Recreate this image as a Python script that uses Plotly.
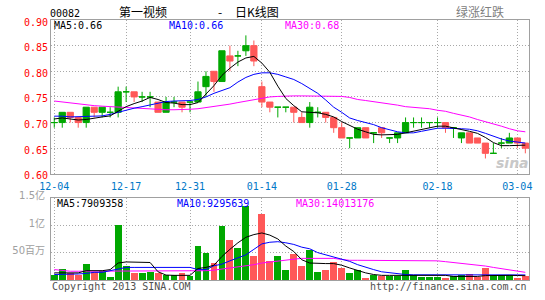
import plotly.graph_objects as go

# ---------------- data ----------------
dates = ['12-04', '12-05', '12-06', '12-07', '12-10', '12-11', '12-12', '12-13', '12-14', '12-17',
         '12-18', '12-19', '12-20', '12-21', '12-24', '12-27', '12-28', '12-31', '01-02', '01-03',
         '01-04', '01-07', '01-08', '01-09', '01-10', '01-11', '01-14', '01-15', '01-16', '01-17',
         '01-18', '01-21', '01-22', '01-23', '01-24', '01-25', '01-28', '01-29', '01-30', '01-31',
         '02-01', '02-04', '02-05', '02-06', '02-07', '02-08', '02-14', '02-15', '02-18', '02-19',
         '02-20', '02-21', '02-22', '02-25', '02-26', '02-27', '02-28', '03-01', '03-04', '03-05']

opens = [0.70, 0.70, 0.72, 0.71, 0.70, 0.73, 0.72, 0.72, 0.72, 0.76,
         0.76, 0.75, 0.75, 0.74, 0.72, 0.74, 0.74, 0.74, 0.74, 0.77,
         0.80, 0.78, 0.83, 0.83, 0.84, 0.85, 0.77, 0.74, 0.73, 0.73,
         0.73, 0.71, 0.70, 0.72, 0.72, 0.71, 0.69, 0.67, 0.67, 0.69,
         0.68, 0.69, 0.67, 0.67, 0.68, 0.70, 0.70, 0.70, 0.70, 0.70,
         0.69, 0.67, 0.68, 0.67, 0.66, 0.64, 0.66, 0.66, 0.67, 0.66]
highs = [0.71, 0.72, 0.72, 0.71, 0.73, 0.73, 0.73, 0.73, 0.77, 0.77,
         0.76, 0.76, 0.76, 0.74, 0.75, 0.75, 0.74, 0.74, 0.78, 0.80,
         0.80, 0.84, 0.85, 0.84, 0.87, 0.86, 0.78, 0.74, 0.73, 0.73,
         0.73, 0.72, 0.74, 0.73, 0.72, 0.71, 0.70, 0.67, 0.69, 0.69,
         0.68, 0.69, 0.67, 0.68, 0.71, 0.71, 0.71, 0.70, 0.71, 0.70,
         0.69, 0.68, 0.68, 0.67, 0.66, 0.66, 0.67, 0.68, 0.67, 0.66]
lows = [0.69, 0.69, 0.70, 0.69, 0.69, 0.71, 0.71, 0.71, 0.71, 0.74,
        0.74, 0.74, 0.73, 0.72, 0.72, 0.73, 0.72, 0.72, 0.74, 0.75,
        0.76, 0.78, 0.80, 0.81, 0.83, 0.81, 0.73, 0.72, 0.71, 0.72,
        0.70, 0.70, 0.69, 0.71, 0.70, 0.68, 0.67, 0.65, 0.67, 0.67,
        0.66, 0.67, 0.66, 0.66, 0.68, 0.69, 0.69, 0.69, 0.69, 0.68,
        0.67, 0.66, 0.66, 0.66, 0.63, 0.64, 0.65, 0.66, 0.65, 0.64]
closes = [0.70, 0.72, 0.71, 0.70, 0.73, 0.72, 0.73, 0.72, 0.76, 0.76,
          0.75, 0.75, 0.75, 0.72, 0.74, 0.74, 0.73, 0.74, 0.76, 0.79,
          0.78, 0.84, 0.82, 0.83, 0.85, 0.82, 0.74, 0.73, 0.73, 0.73,
          0.72, 0.70, 0.73, 0.72, 0.71, 0.69, 0.67, 0.67, 0.69, 0.67,
          0.68, 0.68, 0.67, 0.68, 0.70, 0.70, 0.70, 0.70, 0.70, 0.69,
          0.69, 0.68, 0.66, 0.66, 0.64, 0.64, 0.66, 0.67, 0.66, 0.65]

ma5 = [0.707, 0.709, 0.707, 0.705, 0.706, 0.709, 0.711, 0.713, 0.722, 0.731,
       0.737, 0.742, 0.749, 0.745, 0.739, 0.738, 0.735, 0.735, 0.739, 0.755,
       0.772, 0.792, 0.806, 0.818, 0.826, 0.829, 0.816, 0.798, 0.771, 0.747,
       0.733, 0.721, 0.720, 0.719, 0.716, 0.711, 0.702, 0.694, 0.687, 0.682,
       0.677, 0.676, 0.676, 0.677, 0.680, 0.683, 0.686, 0.690, 0.693, 0.693,
       0.690, 0.687, 0.683, 0.679, 0.671, 0.661, 0.655, 0.655, 0.655, 0.656]
ma10 = [0.7125, 0.7125, 0.711, 0.711, 0.712, 0.7125, 0.713, 0.716, 0.720, 0.725,
        0.728, 0.731, 0.734, 0.738, 0.741, 0.742, 0.742, 0.743, 0.745, 0.750,
        0.757, 0.763, 0.768, 0.779, 0.788, 0.794, 0.797, 0.797, 0.794, 0.789,
        0.784, 0.776, 0.767, 0.757, 0.744, 0.730, 0.720, 0.709, 0.704, 0.700,
        0.696, 0.690, 0.686, 0.682, 0.680, 0.680, 0.683, 0.686, 0.689, 0.689,
        0.689, 0.688, 0.687, 0.684, 0.679, 0.673, 0.668, 0.664, 0.662, 0.660]
ma30 = [0.742, 0.740, 0.738, 0.736, 0.735, 0.733, 0.732, 0.731, 0.730, 0.729,
        0.728, 0.727, 0.726, 0.726, 0.725, 0.725, 0.725, 0.726, 0.727, 0.729,
        0.731, 0.733, 0.736, 0.739, 0.742, 0.745, 0.748, 0.750, 0.751, 0.752,
        0.752, 0.752, 0.752, 0.752, 0.752, 0.752, 0.751, 0.749, 0.745, 0.743,
        0.741, 0.738, 0.737, 0.734, 0.731, 0.730, 0.729, 0.727, 0.724, 0.722,
        0.718, 0.715, 0.711, 0.706, 0.702, 0.698, 0.693, 0.688, 0.684, 0.682]

# volume in millions of shares
vol = [9.3, 20.6, 12.3, 9.3, 29.5, 15.3, 17.0, 6.3, 101.0, 25.4,
       12.3, 12.3, 15.3, 12.3, 9.3, 9.3, 12.3, 8.0, 61.7, 49.0,
       32.0, 99.0, 72.4, 58.0, 135.0, 43.8, 120.6, 35.0, 43.8, 18.8,
       46.8, 26.0, 55.7, 15.3, 18.8, 33.0, 22.4, 13.5, 18.2, 4.5,
       9.9, 8.0, 6.9, 8.0, 18.8, 9.9, 5.0, 5.0, 5.0, 4.0,
       8.0, 9.9, 11.7, 5.0, 21.2, 6.9, 9.9, 9.3, 4.5, 7.5]
vma5 = [13, 13, 13, 13, 17, 17, 17, 19, 31, 33,
        33, 33, 32, 15, 9, 8.5, 8.5, 8.5, 21, 23,
        27, 43, 56, 68, 78, 83, 86, 82, 75, 62,
        52, 37, 31, 30, 30, 30, 27, 22, 17, 13,
        10, 8.5, 8.5, 8.5, 8.5, 8.5, 8.5, 8.5, 8.5, 8.5,
        6.5, 6.5, 6.5, 6.5, 8, 8.5, 8.5, 8.5, 8.2, 7.9]
vma10 = [10, 10, 10, 11, 12, 14, 14, 17, 21, 23,
         23, 23, 23, 23, 23, 23, 23, 23, 19, 19,
         26, 29, 35, 40, 46, 56, 66, 69, 70, 68,
         65, 60, 57, 50, 46, 42, 38, 34, 28, 23,
         19, 15, 13, 11, 10, 9.5, 9.5, 9.5, 9.5, 9.5,
         9.5, 9.5, 9.5, 9.5, 9.4, 9.4, 9.3, 9.3, 9.3, 9.3]
vma30 = [19, 17, 16, 16, 16, 16, 16, 16, 16, 16,
         16, 16, 16, 16, 16, 16, 16, 16, 16.5, 17,
         18, 20, 21.5, 23, 25, 28, 31, 33, 35, 36.5,
         38, 39.5, 39.5, 39.5, 39.5, 39.5, 37.5, 36, 36, 36,
         36, 36, 36, 36, 36, 36, 36, 36, 35, 33.5,
         32, 31, 29.5, 27.5, 25.5, 23, 20.5, 18, 16, 14]

tick_dates = ['12-04', '12-17', '12-31', '01-14', '01-28', '02-18', '03-04']
price_ticks = [0.60, 0.65, 0.70, 0.75, 0.80, 0.85, 0.90]
vol_ticks = [50, 100, 150]
vol_tick_text = ['50百万', '1亿', '1.5亿']

# ---------------- figure ----------------
GREEN = '#00A800'
RED = '#FF5858'
MONO = 'DejaVu Sans Mono'
CJK = 'Noto Sans CJK SC'

idx = list(range(len(dates)))
tickvals = [dates.index(d) for d in tick_dates]
up = [i for i in idx if closes[i] >= opens[i]]
dn = [i for i in idx if closes[i] < opens[i]]


def candles(ids, color):
    return go.Candlestick(
        x=ids,
        open=[opens[i] for i in ids], high=[highs[i] for i in ids],
        low=[lows[i] for i in ids], close=[closes[i] for i in ids],
        increasing=dict(line=dict(color=color, width=1), fillcolor=color),
        decreasing=dict(line=dict(color=color, width=1), fillcolor=color),
        whiskerwidth=0, xaxis='x', yaxis='y', hoverinfo='skip')


fig = go.Figure()
fig.add_trace(candles(up, GREEN))
fig.add_trace(candles(dn, RED))
for series, col in [(ma30, '#FF00FF'), (ma10, '#0000FF'), (ma5, '#000000')]:
    fig.add_trace(go.Scatter(x=idx, y=series, mode='lines', line=dict(color=col, width=1),
                             xaxis='x', yaxis='y', hoverinfo='skip'))

bar_colors = [GREEN if closes[i] >= opens[i] else RED for i in idx]
fig.add_trace(go.Bar(x=idx, y=vol, marker=dict(color=bar_colors, line=dict(width=0)),
                     width=0.86, xaxis='x2', yaxis='y2', hoverinfo='skip'))
for series, col in [(vma30, '#FF00FF'), (vma10, '#0000FF'), (vma5, '#000000')]:
    fig.add_trace(go.Scatter(x=idx, y=series, mode='lines', line=dict(color=col, width=1),
                             xaxis='x2', yaxis='y2', hoverinfo='skip'))

L, R, T, B = 50, 16, 19, 14
W, H = 545, 300
PW, PH = W - L - R, H - T - B


def px(x):
    return (x - L) / PW


def py(y):
    return (H - B - y) / PH


grid = dict(showgrid=True, gridcolor='#a8a8a8', griddash='1px,2px', gridwidth=1,
            showline=True, mirror=True, linecolor='#a0a0a0', linewidth=1,
            zeroline=False, ticks='', fixedrange=True)

fig.update_layout(
    width=W, height=H, margin=dict(l=L, r=R, t=T, b=B),
    paper_bgcolor='white', plot_bgcolor='white', showlegend=False,
    boxmode='overlay', boxgap=0.22, boxgroupgap=0, bargap=0,
    xaxis=dict(domain=[0, 1], anchor='y', range=[-0.41, 59.46],
               tickmode='array', tickvals=tickvals, ticktext=tick_dates,
               tickfont=dict(family=MONO, size=10, color='#0078C8'),
               ticklabelstandoff=3,
               rangeslider=dict(visible=False), **grid),
    xaxis2=dict(domain=[0, 1], anchor='y2', range=[-0.41, 59.46],
                tickmode='array', tickvals=tickvals, showticklabels=False, **grid),
    yaxis=dict(domain=[py(177), 1], anchor='x', range=[0.6, 0.9],
               tickmode='array', tickvals=price_ticks,
               ticktext=['%.2f' % v for v in price_ticks],
               tickfont=dict(family=MONO, size=10, color='#FF0000'),
               ticklabelshift=2, **grid),
    yaxis2=dict(domain=[0, py(201.7)], anchor='x2', range=[0, 150],
                tickmode='array', tickvals=vol_ticks, ticktext=vol_tick_text,
                tickfont=dict(family='DejaVu Sans, ' + CJK, size=10, color='#A0A0A0'),
                ticklabelshift=-2, ticklabelstandoff=3, **grid),
)


def label(x, y, text, color='#000000', size=10, family=MONO, anchor='left'):
    fig.add_annotation(x=px(x), y=py(y), xref='paper', yref='paper', text=text,
                       showarrow=False, xanchor=anchor, yanchor='middle',
                       font=dict(family=family, size=size, color=color))


# header
label(47, 12, '00082')
label(116, 10, '第一视频', size=12, family=CJK)
label(215, 10, '-', size=12, family=CJK)
label(232, 10, '日K线图', size=12, family=CJK)
label(506, 10, '绿涨红跌', color='#808080', size=12, family=CJK, anchor='right')
# price MA labels
label(51, 25, 'MA5:0.66', '#000000')
label(166, 25, 'MA10:0.66', '#0000FF')
label(282, 25, 'MA30:0.68', '#FF00FF')
# volume MA labels
label(54, 207, 'MA5:7909358', '#000000')
label(174, 207, 'MA10:9295639', '#0000FF')
label(294, 207, 'MA30:14013176', '#FF00FF')
# watermark
label(512, 166, '<b><i>sina</i></b>', '#C8C8C8', size=14, family='DejaVu Sans', anchor='center')
# footer
label(49, 293, 'Copyright 2013 SINA.COM', '#505050')
label(529, 293, 'http://finance.sina.com.cn', '#505050', anchor='right')

fig.write_html('out.html')
